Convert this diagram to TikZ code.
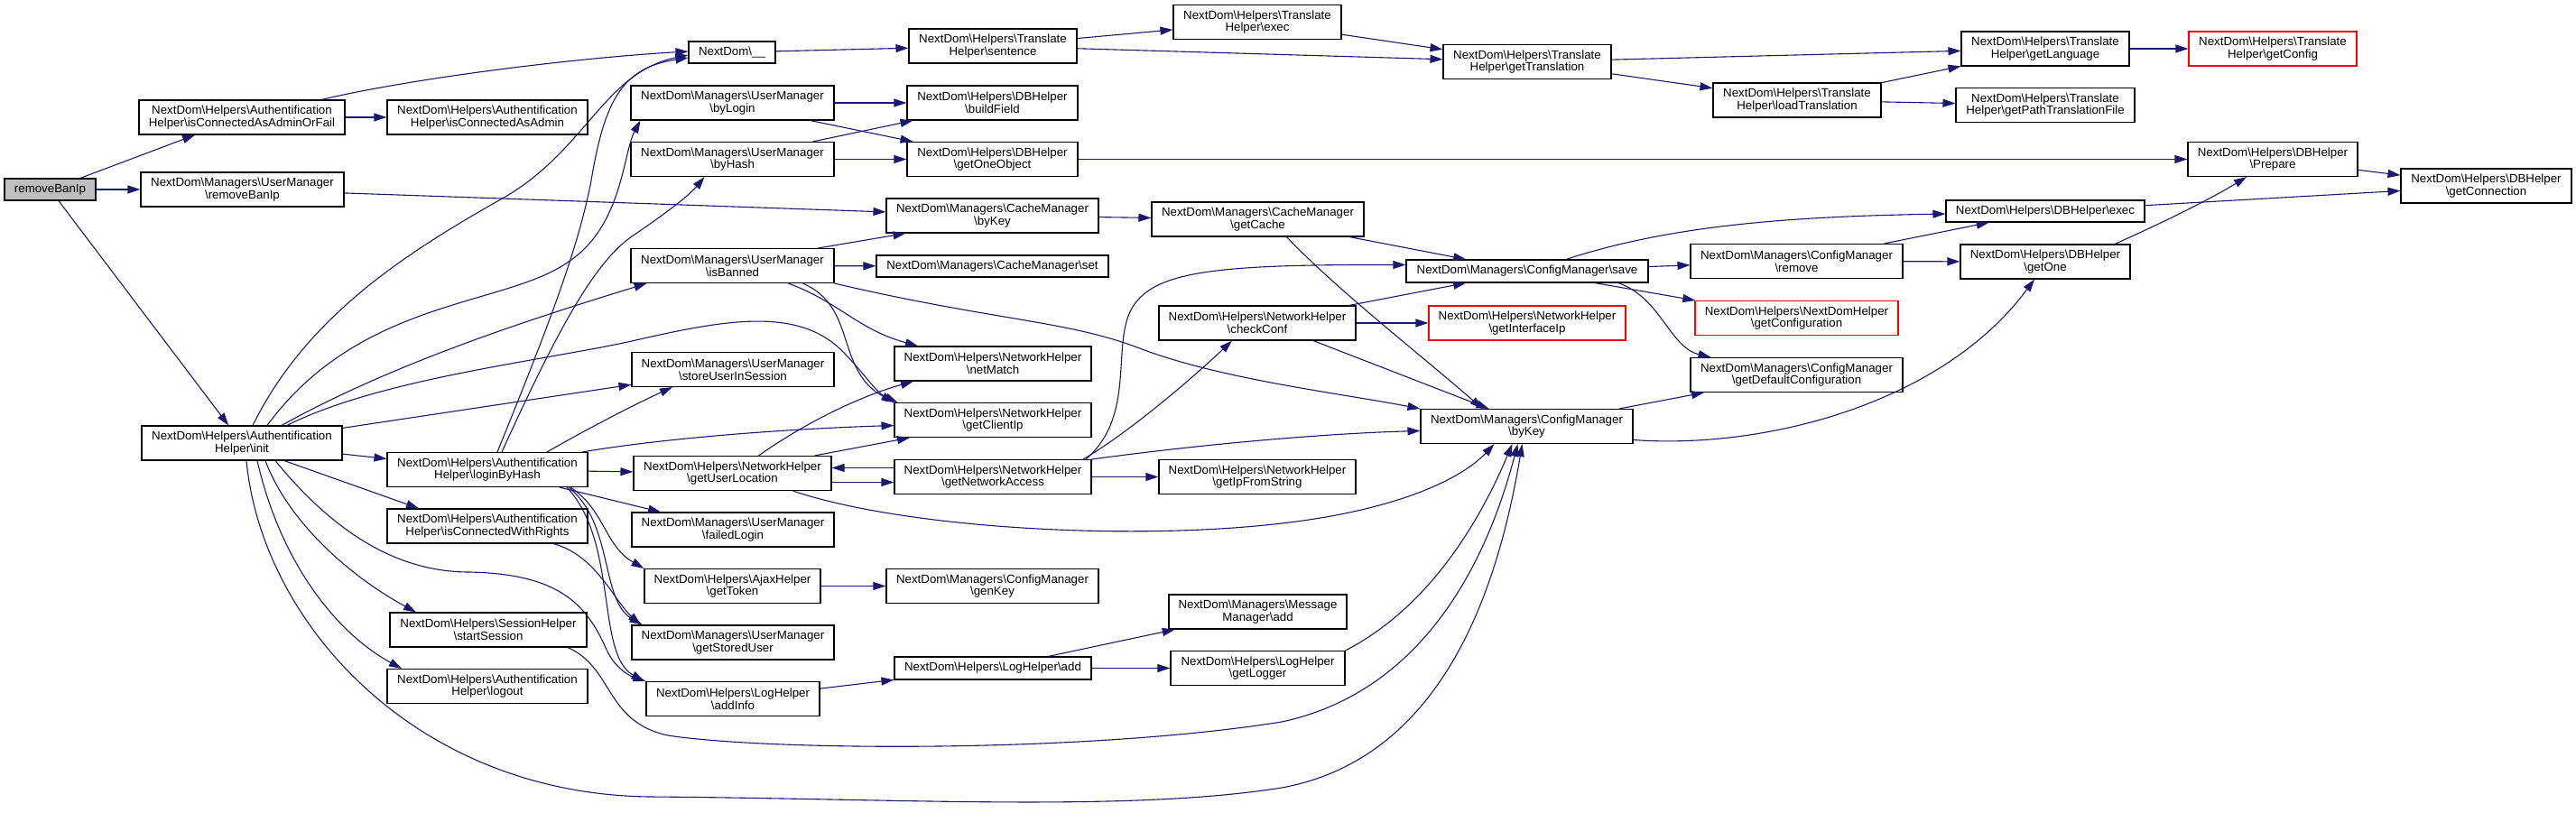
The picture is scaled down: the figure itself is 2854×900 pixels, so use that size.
\documentclass[tikz,border=0pt]{standalone}
\usepackage{fontspec}
\setmainfont{Liberation Sans}
\usetikzlibrary{arrows.meta}
\definecolor{edgeblue}{RGB}{25,25,112}
\definecolor{rootgray}{RGB}{191,191,191}
\newcommand{\bsh}{\textbackslash}
\begin{document}
\begin{tikzpicture}[x=1pt,y=-1pt,
  fn/.style={draw=black, line width=1.1pt, fill=white, inner sep=0pt, align=center,
     minimum height=38pt, font=\fontsize{13.3}{13.6}\selectfont},
  fnred/.style={fn, draw=red},
  calls/.style={draw=edgeblue, line width=1.1pt, -{Triangle[length=14pt,width=9pt]}}]
\useasboundingbox (0,0) rectangle (2854,900);

% nodes
\node[fn, fill=rootgray, minimum width=101pt, minimum height=24pt] (rb) at (55.5,210) {removeBanIp};
\node[fn, minimum width=228pt] (caof) at (268,130) {NextDom\bsh Helpers\bsh Authentification\\Helper\bsh isConnectedAsAdminOrFail};
\node[fn, minimum width=222pt] (caa) at (540,130) {NextDom\bsh Helpers\bsh Authentification\\Helper\bsh isConnectedAsAdmin};
\node[fn, minimum width=225pt] (umrb) at (268.5,210) {NextDom\bsh Managers\bsh UserManager\\\bsh removeBanIp};
\node[fn, minimum width=222pt] (init) at (268,491) {NextDom\bsh Helpers\bsh Authentification\\Helper\bsh init};
\node[fn, minimum width=96pt, minimum height=24pt] (us) at (811,58) {NextDom\bsh\_\_};
\node[fn, minimum width=186pt] (sent) at (1100,51) {NextDom\bsh Helpers\bsh Translate\\Helper\bsh sentence};
\node[fn, minimum width=186pt] (texec) at (1393,24.5) {NextDom\bsh Helpers\bsh Translate\\Helper\bsh exec};
\node[fn, minimum width=186pt] (gtr) at (1692,68.5) {NextDom\bsh Helpers\bsh Translate\\Helper\bsh getTranslation};
\node[fn, minimum width=186pt] (ltr) at (1991,111) {NextDom\bsh Helpers\bsh Translate\\Helper\bsh loadTranslation};
\node[fn, minimum width=186pt] (glang) at (2266,54) {NextDom\bsh Helpers\bsh Translate\\Helper\bsh getLanguage};
\node[fnred, minimum width=186pt] (gconf) at (2518,54) {NextDom\bsh Helpers\bsh Translate\\Helper\bsh getConfig};
\node[fn, minimum width=198pt] (gptf) at (2266,116.5) {NextDom\bsh Helpers\bsh Translate\\Helper\bsh getPathTranslationFile};
\node[fn, minimum width=225pt] (blog) at (811.5,114) {NextDom\bsh Managers\bsh UserManager\\\bsh byLogin};
\node[fn, minimum width=189pt] (bfield) at (1099.5,114) {NextDom\bsh Helpers\bsh DBHelper\\\bsh buildField};
\node[fn, minimum width=225pt] (bhash) at (811.5,176.5) {NextDom\bsh Managers\bsh UserManager\\\bsh byHash};
\node[fn, minimum width=189pt] (goo) at (1099.5,176.5) {NextDom\bsh Helpers\bsh DBHelper\\\bsh getOneObject};
\node[fn, minimum width=235pt] (cbk) at (1099.5,239) {NextDom\bsh Managers\bsh CacheManager\\\bsh byKey};
\node[fn, minimum width=235pt] (gcache) at (1393.5,243) {NextDom\bsh Managers\bsh CacheManager\\\bsh getCache};
\node[fn, minimum width=225pt] (isb) at (811.5,294.5) {NextDom\bsh Managers\bsh UserManager\\\bsh isBanned};
\node[fn, minimum width=257pt, minimum height=24pt] (cset) at (1099.5,295) {NextDom\bsh Managers\bsh CacheManager\bsh set};
\node[fn, minimum width=268pt, minimum height=25pt] (save) at (1692,300.5) {NextDom\bsh Managers\bsh ConfigManager\bsh save};
\node[fn, minimum width=235pt] (remove) at (1990.5,289.5) {NextDom\bsh Managers\bsh ConfigManager\\\bsh remove};
\node[fn, minimum width=188pt] (prep) at (2518,176.5) {NextDom\bsh Helpers\bsh DBHelper\\\bsh Prepare};
\node[fn, minimum width=189pt] (gconn) at (2754.5,206) {NextDom\bsh Helpers\bsh DBHelper\\\bsh getConnection};
\node[fn, minimum width=220pt, minimum height=24pt] (dexec) at (2266,234) {NextDom\bsh Helpers\bsh DBHelper\bsh exec};
\node[fn, minimum width=188pt] (gone) at (2266,290) {NextDom\bsh Helpers\bsh DBHelper\\\bsh getOne};
\node[fn, minimum width=224pt] (suis) at (812,409.5) {NextDom\bsh Managers\bsh UserManager\\\bsh storeUserInSession};
\node[fn, minimum width=218pt] (nm) at (1100,403) {NextDom\bsh Helpers\bsh NetworkHelper\\\bsh netMatch};
\node[fn, minimum width=218pt] (gcip) at (1100,465.5) {NextDom\bsh Helpers\bsh NetworkHelper\\\bsh getClientIp};
\node[fn, minimum width=219pt] (gul) at (811.5,524.5) {NextDom\bsh Helpers\bsh NetworkHelper\\\bsh getUserLocation};
\node[fn, minimum width=218pt] (gna) at (1100,528.5) {NextDom\bsh Helpers\bsh NetworkHelper\\\bsh getNetworkAccess};
\node[fn, minimum width=224pt] (fl) at (812,587) {NextDom\bsh Managers\bsh UserManager\\\bsh failedLogin};
\node[fn, minimum width=218pt] (cc) at (1393,358) {NextDom\bsh Helpers\bsh NetworkHelper\\\bsh checkConf};
\node[fn, minimum width=218pt] (gifs) at (1393,528.5) {NextDom\bsh Helpers\bsh NetworkHelper\\\bsh getIpFromString};
\node[fnred, minimum width=218pt] (gii) at (1692,358) {NextDom\bsh Helpers\bsh NetworkHelper\\\bsh getInterfaceIp};
\node[fnred, minimum width=225pt] (gcfg) at (1990.5,352.5) {NextDom\bsh Helpers\bsh NextDomHelper\\\bsh getConfiguration};
\node[fn, minimum width=235pt] (gdc) at (1990.5,415.5) {NextDom\bsh Managers\bsh ConfigManager\\\bsh getDefaultConfiguration};
\node[fn, minimum width=235pt] (cmbk) at (1691.5,472.5) {NextDom\bsh Managers\bsh ConfigManager\\\bsh byKey};
\node[fn, minimum width=222pt] (lbh) at (540,520.5) {NextDom\bsh Helpers\bsh Authentification\\Helper\bsh loginByHash};
\node[fn, minimum width=222pt] (icwr) at (540,583) {NextDom\bsh Helpers\bsh Authentification\\Helper\bsh isConnectedWithRights};
\node[fn, minimum width=218pt] (ss) at (541,698) {NextDom\bsh Helpers\bsh SessionHelper\\\bsh startSession};
\node[fn, minimum width=222pt] (lo) at (540,760.5) {NextDom\bsh Helpers\bsh Authentification\\Helper\bsh logout};
\node[fn, minimum width=195pt] (gtok) at (811.5,649.5) {NextDom\bsh Helpers\bsh AjaxHelper\\\bsh getToken};
\node[fn, minimum width=235pt] (gkey) at (1099.5,649.5) {NextDom\bsh Managers\bsh ConfigManager\\\bsh genKey};
\node[fn, minimum width=224pt] (gsu) at (812,712) {NextDom\bsh Managers\bsh UserManager\\\bsh getStoredUser};
\node[fn, minimum width=192pt] (ai) at (812,774.5) {NextDom\bsh Helpers\bsh LogHelper\\\bsh addInfo};
\node[fn, minimum width=218pt, minimum height=25pt] (ladd) at (1100,740.5) {NextDom\bsh Helpers\bsh LogHelper\bsh add};
\node[fn, minimum width=197pt] (madd) at (1393.5,678) {NextDom\bsh Managers\bsh Message\\Manager\bsh add};
\node[fn, minimum width=193pt] (glog) at (1393.5,740.5) {NextDom\bsh Helpers\bsh LogHelper\\\bsh getLogger};

% straight edges
\draw[calls] (rb) -- (caof);
\draw[calls] (rb) -- (umrb);
\draw[calls] (rb) -- (init);
\draw[calls] (caof) -- (caa);
\draw[calls] (umrb) -- (cbk);
\draw[calls] (init) -- (lbh);
\draw[calls] (init) -- (suis);
\draw[calls] ([xshift=47pt]init.south) -- ([xshift=-76pt]icwr.north);
\draw[calls] (us) -- (sent);
\draw[calls] (sent) -- (texec);
\draw[calls] (sent) -- (gtr);
\draw[calls] (texec) -- (gtr);
\draw[calls] (gtr) -- (glang);
\draw[calls] (gtr) -- (ltr);
\draw[calls] (ltr) -- (glang);
\draw[calls] (ltr) -- (gptf);
\draw[calls] (glang) -- (gconf);
\draw[calls] (blog) -- (bfield);
\draw[calls] ([xshift=86pt]blog.south) -- ([xshift=-88pt]goo.north);
\draw[calls] ([xshift=89pt]bhash.north) -- ([xshift=-88pt]bfield.south);
\draw[calls] (bhash) -- (goo);
\draw[calls] (goo) -- (prep);
\draw[calls] (cbk) -- (gcache);
\draw[calls] (gcache) -- (save);
\draw[calls] ([xshift=95pt]isb.north) -- ([xshift=-96pt]cbk.south);
\draw[calls] (isb) -- (cset);
\draw[calls] (cc) -- (save);
\draw[calls] (cc) -- (gii);
\draw[calls] ([xshift=62pt]cc.south) -- ([xshift=-42pt]cmbk.north);
\draw[calls] ([yshift=10pt]gna.west) -- ([yshift=6pt]gul.east);
\draw[calls] ([yshift=-10pt]gul.east) -- ([yshift=-6pt]gna.west);
\draw[calls] ([xshift=91pt]gul.north) -- ([xshift=-92pt]gcip.south);
\draw[calls] (gna) -- (gifs);
\draw[calls] (save) -- (remove);
\draw[calls] (save) -- (gcfg);
\draw[calls] (remove) -- (dexec);
\draw[calls] (remove) -- (gone);
\draw[calls] (prep) -- (gconn);
\draw[calls] (dexec) -- (gconn);
\draw[calls] (cmbk) -- (gdc);
\draw[calls] (lbh) -- (gul);
\draw[calls] (lbh) -- (fl);
\draw[calls] (ai) -- (ladd);
\draw[calls] (ladd) -- (madd);
\draw[calls] (ladd) -- (glog);
\draw[calls] (gtok) -- (gkey);

% curved edges
\draw[calls] ([xshift=88pt]caof.north) .. controls (460,86) and (640,64) .. ([yshift=1pt]us.west);
\draw[calls] ([xshift=12pt]init.north) .. controls (340,350) and (450,280) .. (560,218) .. controls (650,165) and (670,80) .. ([yshift=-3pt]us.west);
\draw[calls] ([xshift=28pt]init.north) .. controls (400,330) and (560,340) .. (630,290) .. controls (690,250) and (690,170) .. ([xshift=-102pt]blog.south);
\draw[calls] ([xshift=11pt]lbh.north) .. controls (600,380) and (640,280) .. (655,200) .. controls (670,110) and (690,75) .. ([yshift=-6pt]us.west);
\draw[calls] ([xshift=16pt]lbh.north) .. controls (620,360) and (660,290) .. (700,262) .. controls (740,235) and (765,215) .. ([xshift=-31pt]bhash.south);
\draw[calls] ([xshift=44pt]init.north) .. controls (440,400) and (600,350) .. ([xshift=-95pt]isb.south);
\draw[calls] ([xshift=50pt]init.north) .. controls (420,420) and (600,400) .. (700,378) .. controls (800,355) and (880,340) .. (930,386) .. controls (955,410) and (970,435) .. ([xshift=4pt]gcip.north west);
\draw[calls] ([xshift=26pt]init.south) .. controls (320,580) and (390,640) .. ([xshift=-80pt]ss.north);
\draw[calls] ([xshift=17pt]init.south) .. controls (310,620) and (370,700) .. ([xshift=-95pt]lo.north);
\draw[calls] ([xshift=37pt]init.south) .. controls (370,590) and (440,634) .. (520,634) .. controls (620,636) and (650,670) .. (672,720) .. controls (682,742) and (700,750) .. (ai.north west);
\draw[calls] ([xshift=5pt]init.south) .. controls (290,690) and (460,880) .. (720,883) .. controls (1000,885) and (1250,900) .. (1420,873) .. controls (1600,840) and (1660,650) .. ([xshift=-5pt]cmbk.south);
\draw[calls] ([xshift=62pt]isb.south) .. controls (930,335) and (950,365) .. ([xshift=-83pt]nm.north);
\draw[calls] ([xshift=78pt]isb.south) .. controls (950,340) and (925,410) .. (gcip.north west);
\draw[calls] (isb.south east) .. controls (1100,355) and (1180,355) .. (1260,385) .. controls (1350,420) and (1480,435) .. (cmbk.north west);
\draw[calls] ([xshift=32pt]gcache.south) .. controls (1480,320) and (1570,390) .. ([xshift=-49pt]cmbk.north);
\draw[calls] ([xshift=29pt]gul.north) .. controls (890,470) and (950,440) .. ([xshift=-88pt]nm.south);
\draw[calls] ([xshift=67pt]gul.south) .. controls (1000,585) and (1250,600) .. (1420,580) .. controls (1550,565) and (1620,530) .. ([xshift=-36pt]cmbk.south);
\draw[calls] ([xshift=100pt]gna.north) .. controls (1250,480) and (1320,420) .. ([xshift=-28pt]cc.south);
\draw[calls] ([xshift=103pt]gna.north) .. controls (1260,460) and (1230,380) .. (1255,340) .. controls (1280,300) and (1350,293) .. ([yshift=7pt]save.west);
\draw[calls] (gna.north east) .. controls (1350,490) and (1480,480) .. ([yshift=-5pt]cmbk.west);
\draw[calls] ([xshift=101pt]save.south) .. controls (1840,330) and (1850,385) .. ([xshift=-95pt]gdc.north);
\draw[calls] ([xshift=43pt]save.north) .. controls (1850,250) and (1980,240) .. ([yshift=-3pt]dexec.west);
\draw[calls] ([xshift=77pt]gone.north) .. controls (2400,245) and (2450,220) .. ([xshift=-29pt]prep.south);
\draw[calls] ([yshift=-15pt]cmbk.east) .. controls (1950,498) and (2150,450) .. ([xshift=-12pt]gone.south);
\draw[calls] ([xshift=66pt]lbh.north) .. controls (660,470) and (710,445) .. ([xshift=-67pt]suis.south);
\draw[calls] ([xshift=105pt]lbh.north) .. controls (720,488) and (850,476) .. ([yshift=-6pt]gcip.west);
\draw[calls] ([xshift=92pt]lbh.south) .. controls (670,565) and (670,605) .. (gtok.north west);
\draw[calls] ([xshift=90pt]lbh.south) .. controls (680,580) and (665,665) .. ([xshift=12pt]gsu.north west);
\draw[calls] ([xshift=88pt]lbh.south) .. controls (685,600) and (660,725) .. ([xshift=-2pt]ai.north west);
\draw[calls] ([xshift=73pt]icwr.south) .. controls (660,615) and (680,665) .. ([xshift=10pt]gsu.north west);
\draw[calls] ([xshift=88pt]ss.south) .. controls (680,740) and (670,800) .. (740,815) .. controls (850,832) and (1200,835) .. (1420,800) .. controls (1560,770) and (1640,650) .. ([xshift=-10pt]cmbk.south);
\draw[calls] (glog.north east) .. controls (1570,680) and (1630,600) .. ([xshift=-16pt]cmbk.south);
\end{tikzpicture}
\end{document}
